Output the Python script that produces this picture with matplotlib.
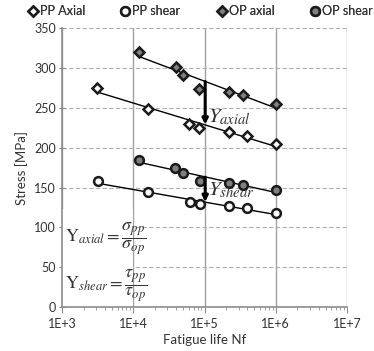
import numpy as np
import matplotlib.pyplot as plt
from matplotlib.patches import Rectangle
from matplotlib.ticker import FixedLocator, LogLocator, NullFormatter

plt.rcParams['font.family'] = ['Lato', 'DejaVu Sans']
plt.rcParams['mathtext.fontset'] = 'stix'

# data
pp_axial_n = [3070, 16300, 61200, 83800, 219000, 391000, 1010000]
pp_axial_s = [275, 249, 230, 225, 220, 215, 205]
op_axial_n = [12000, 39500, 50400, 84600, 223000, 344000, 1010000]
op_axial_s = [320, 301, 291, 274, 270, 266, 255]
pp_shear_n = [3200, 16300, 63000, 85700, 219000, 395000, 1000000]
pp_shear_s = [158, 144, 132, 129, 127, 124, 118]
op_shear_n = [11900, 38500, 50300, 85700, 221000, 351000, 1000000]
op_shear_s = [185, 174, 168, 158, 156, 153, 147]

grey = '#8c8c8c'
txt = '#333333'

fig = plt.figure(figsize=(3.74, 3.51), dpi=100)
ax = fig.add_axes([0.166, 0.125, 0.762, 0.795])

series = [
    (pp_axial_n, pp_axial_s, 'D', 'white', 'PP Axial', 5.2),
    (pp_shear_n, pp_shear_s, 'o', 'white', 'PP shear', 6.3),
    (op_axial_n, op_axial_s, 'D', '#7f7f7f', 'OP axial', 5.2),
    (op_shear_n, op_shear_s, 'o', '#7f7f7f', 'OP shear', 6.3),
]
handles = []
for n, s, m, fc, lab, ms in series:
    n = np.array(n, dtype=float)
    s = np.array(s, dtype=float)
    # log trendline
    a, b = np.polyfit(np.log10(n), s, 1)
    xs = np.array([n.min(), n.max()])
    ax.plot(xs, a * np.log10(xs) + b, color='black', lw=1.0, zorder=2)
    h, = ax.plot(n, s, ls='none', marker=m, ms=ms, mfc=fc, mec='#1a1a1a',
                 mew=1.8, label=lab, zorder=3)
    handles.append(h)

ax.set_xscale('log')
ax.set_xlim(1e3, 1e7)
ax.set_ylim(0, 350)
ax.set_yticks(np.arange(0, 351, 50))
ax.xaxis.set_major_locator(FixedLocator([1e3, 1e4, 1e5, 1e6, 1e7]))
ax.set_xticklabels(['1E+3', '1E+4', '1E+5', '1E+6', '1E+7'])
ax.xaxis.set_minor_locator(LogLocator(base=10, subs=np.arange(2, 10)))
ax.xaxis.set_minor_formatter(NullFormatter())

ax.set_axisbelow(True)
ax.yaxis.grid(True, color='#b0b0b0', ls=(0, (4, 2)), lw=0.8)
ax.xaxis.grid(True, which='major', color='#a0a0a0', lw=1.0)
for sp in ['top', 'right']:
    ax.spines[sp].set_visible(False)
for sp in ['left', 'bottom']:
    ax.spines[sp].set_color(grey)
    ax.spines[sp].set_linewidth(1.2)
ax.tick_params(axis='y', direction='inout', length=5, color=grey, labelsize=9,
               labelcolor=txt, pad=2)
ax.tick_params(axis='x', which='major', direction='out', length=4, color=grey,
               labelsize=9, labelcolor=txt)
ax.tick_params(axis='x', which='minor', direction='out', length=2, color=grey)

ax.set_xlabel('Fatigue life Nf', fontsize=9.5, color=txt, labelpad=3)
ax.set_ylabel('Stress [MPa]', fontsize=9.5, color=txt, labelpad=4)

# white box holding the ratio definitions
ax.add_patch(Rectangle((1e3, 0.5), 9e3, 122, facecolor='white', edgecolor='none',
                       zorder=1.5))
ax.text(1.1e3, 86, r'$\mathrm{Y}_{axial}=\dfrac{\sigma_{pp}}{\sigma_{op}}$',
        fontsize=13, va='center', ha='left', color=txt, zorder=4)
ax.text(1.1e3, 27, r'$\mathrm{Y}_{shear}=\dfrac{\tau_{pp}}{\tau_{op}}$',
        fontsize=13, va='center', ha='left', color=txt, zorder=4)

# arrows between the curves
ax.annotate('', xy=(1.02e5, 229), xytext=(1.02e5, 283),
            arrowprops=dict(arrowstyle='-|>', color='black', lw=2.2,
                            mutation_scale=8, shrinkA=0, shrinkB=0), zorder=4)
ax.text(1.12e5, 232, r'$Y_{axial}$', fontsize=15, color=txt, zorder=4)
ax.annotate('', xy=(1.02e5, 132), xytext=(1.02e5, 163),
            arrowprops=dict(arrowstyle='-|>', color='black', lw=2.2,
                            mutation_scale=8, shrinkA=0, shrinkB=0), zorder=4)
ax.text(1.12e5, 140, r'$Y_{shear}$', fontsize=15, color=txt, zorder=4)

# one legend entry per slot so the spacing follows the reference
leg_x = [0.064, 0.312, 0.571, 0.820]
for h, x0 in zip(handles, leg_x):
    lg = fig.legend(handles=[h], loc='upper left', bbox_to_anchor=(x0, 1.0),
                    frameon=False, fontsize=9, handlelength=0.6,
                    handletextpad=0.25, labelcolor=txt, borderaxespad=0)
    fig.add_artist(lg)

fig.savefig('out.png', dpi=100)
